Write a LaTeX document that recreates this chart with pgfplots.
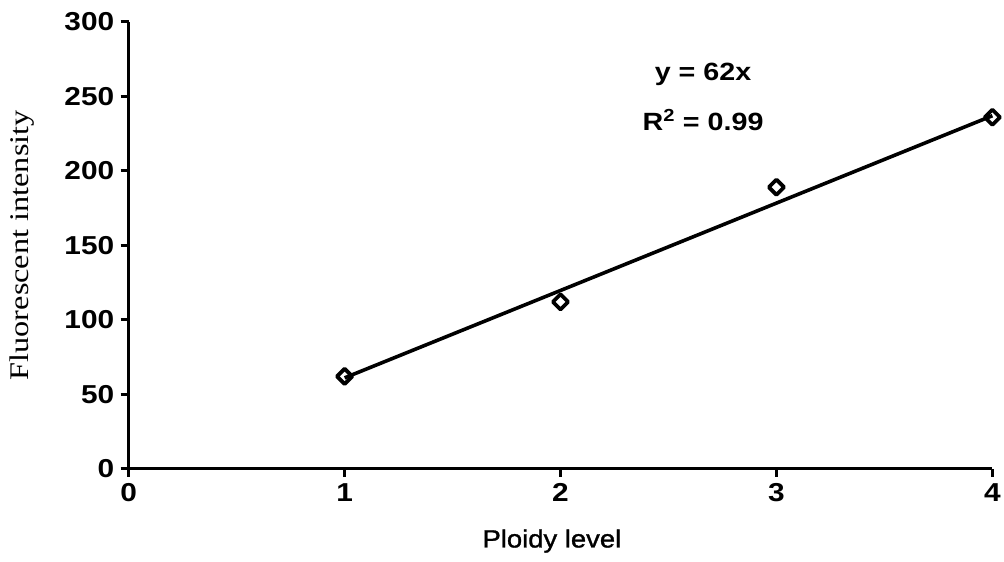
\documentclass[border=0pt]{standalone}
\usepackage{fontspec}
\setmainfont{Liberation Sans}
\newfontfamily\tickfont[FakeStretch=1.15]{Liberation Sans}
\newfontfamily\labfont[FakeStretch=1.1,FakeBold=1.2]{Liberation Sans}
\newfontfamily\serifA[FakeStretch=1.2]{Liberation Serif}
\usepackage{pgfplots}
\pgfplotsset{compat=1.18}
\begin{document}
\begin{tikzpicture}
\begin{axis}[
  scale only axis, width=866pt, height=448pt,
  xmin=0, xmax=4, ymin=0, ymax=300,
  clip=false,
  axis x line*=bottom, axis y line*=left,
  axis line style={line width=3.4pt},
  xtick={0,1,2,3,4}, ytick={0,50,100,150,200,250,300},
  tick align=outside, major tick length=8pt,
  tick style={line width=2.8pt, black},
  /pgf/number format/assume math mode=true,
  ticklabel style={font=\tickfont\fontsize{26}{29}\selectfont\bfseries},
  xticklabel style={yshift=-3pt},
  yticklabel style={xshift=-3pt},
  xlabel={Ploidy level},
  xlabel style={at={(axis description cs:0.49,-0.128)}, anchor=north, font=\labfont\fontsize{25}{28}\selectfont},
  ylabel={Fluorescent intensity},
  ylabel style={at={(axis description cs:-0.105,0.5)}, anchor=south, font=\serifA\fontsize{27}{30}\selectfont},
]
\coordinate (bl) at (rel axis cs:-0.149,-0.2076);
\coordinate (tr) at (rel axis cs:1.0104,1.049);
\addplot[black, line width=3.6pt] coordinates {(1,61) (4,237)};
\addplot[only marks, black, mark=square, mark size=5.4pt,
  mark options={rotate=45, line width=3.8pt, fill=white, line join=round}]
  coordinates {(1,62) (2,112) (3,189) (4,236)};
\node[font=\tickfont\fontsize{25}{28}\selectfont\bfseries] at (axis cs:2.66,265) {y = 62x};
\node[font=\tickfont\fontsize{25}{28}\selectfont\bfseries] at (axis cs:2.66,234) {R\textsuperscript{2} = 0.99};
\end{axis}
\useasboundingbox (bl) rectangle (tr);
\end{tikzpicture}
\end{document}
